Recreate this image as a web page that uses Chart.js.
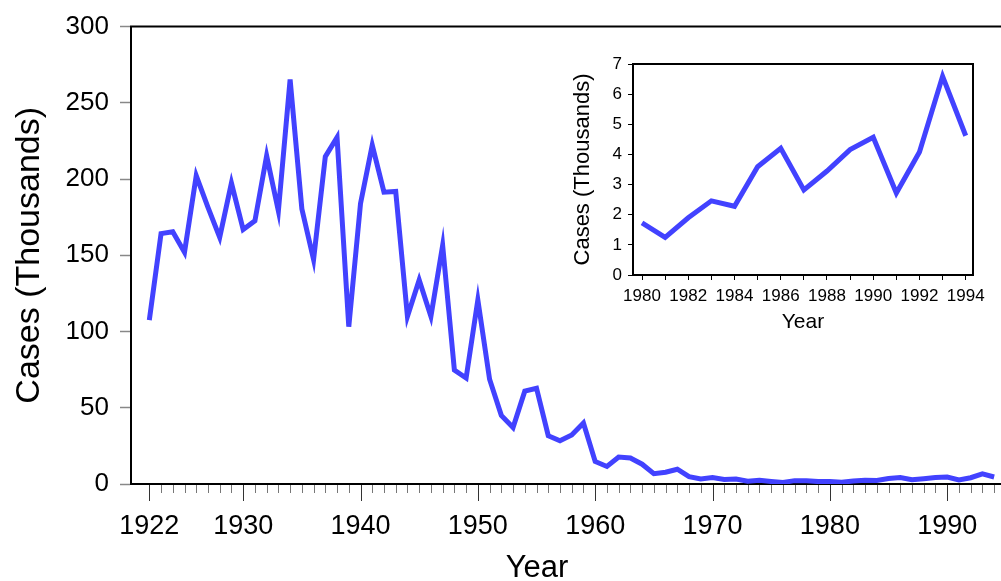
<!DOCTYPE html>
<html>
<head>
<meta charset="utf-8">
<title>Cases by year</title>
<script src="https://cdn.jsdelivr.net/npm/chart.js@4.4.1/dist/chart.umd.min.js"></script>
<style>
    html, body { margin: 0; padding: 0; background: #fff; overflow: hidden; }
    #wrap { position: relative; width: 1001px; height: 581px; }
    #main { position: absolute; left: 0; top: 0; }
    #inset { position: absolute; left: 560px; top: 40px; }
</style>
</head>
<body>
<div id="wrap">
    <canvas id="main" width="1001" height="581"></canvas>
    <canvas id="inset" width="441" height="300"></canvas>
</div>
<script>
// datos (miles de casos por año)
const years = [];
for (let y = 1922; y <= 1994; y++) years.push(y);

const cases = [
    107.5, 164.2, 165.4, 152.0, 202.2, 181.4, 161.8, 197.4, 166.9, 172.6, // 1922-1931
    215.3, 179.1, 265.3, 180.5, 147.2, 214.7, 227.3, 103.2, 183.9, 222.2, // 1932-1941
    191.4, 191.9, 109.9, 133.8, 109.9, 156.5, 74.7, 69.5, 120.7, 68.7,    // 1942-1951
    45.0, 37.1, 60.9, 62.8, 31.7, 28.3, 32.1, 40.0, 14.8, 11.5,           // 1952-1961
    17.7, 17.1, 13.0, 6.8, 7.7, 9.7, 4.8, 3.3, 4.2, 3.0,                  // 1962-1971
    3.3, 1.8, 2.4, 1.7, 1.0, 2.2, 2.1, 1.6, 1.7, 1.2,                     // 1972-1981
    1.9, 2.5, 2.3, 3.6, 4.2, 2.8, 3.5, 4.2, 4.6, 2.7,                     // 1982-1991
    4.1, 6.6, 4.6                                                         // 1992-1994
];

const mainYTicks = [0, 50, 100, 150, 200, 250, 300];
const mainXLabels = [1922, 1930, 1940, 1950, 1960, 1970, 1980, 1990];

// recuadro 1980-1994
const insetYears = [1980, 1981, 1982, 1983, 1984, 1985, 1986, 1987, 1988, 1989, 1990, 1991, 1992, 1993, 1994];
const insetCases = [1.73, 1.25, 1.90, 2.46, 2.28, 3.59, 4.20, 2.82, 3.45, 4.16, 4.57, 2.72, 4.08, 6.59, 4.62];
const insetYTicks = [0, 1, 2, 3, 4, 5, 6, 7];
const insetXLabels = [1980, 1982, 1984, 1986, 1988, 1990, 1992, 1994];

const LINE = '#4242ff';
const FONT = "'Liberation Sans', Arial, Helvetica, sans-serif";
Chart.defaults.font.family = FONT;
Chart.defaults.color = '#000';

// marco: lineas extra en los lados indicados
function framePlugin(id, sides) {
    return {
        id: id,
        afterDraw(chart) {
            const a = chart.chartArea, ctx = chart.ctx;
            ctx.save();
            ctx.strokeStyle = '#000';
            ctx.lineWidth = 2;
            ctx.beginPath();
            if (sides.includes('top')) { ctx.moveTo(a.left - 1, a.top); ctx.lineTo(a.right + 1, a.top); }
            if (sides.includes('right')) { ctx.moveTo(a.right, a.top); ctx.lineTo(a.right, a.bottom); }
            ctx.stroke();
            ctx.restore();
        }
    };
}

// marcas del eje X principal: largas en las etiquetas, cortas cada año
const mainXTicksPlugin = {
    id: 'mainXTicks',
    afterDraw(chart) {
        const sx = chart.scales.x, ctx = chart.ctx;
        const y0 = chart.chartArea.bottom + 1;
        ctx.save();
        sx.ticks.forEach(t => {
            const major = mainXLabels.includes(t.value);
            const px = Math.round(sx.getPixelForValue(t.value)) + 0.5;
            ctx.strokeStyle = major ? '#333' : '#777';
            ctx.lineWidth = 1;
            ctx.beginPath();
            ctx.moveTo(px, y0);
            ctx.lineTo(px, y0 + (major ? 16 : 8));
            ctx.stroke();
        });
        // titulo del eje X
        ctx.fillStyle = '#000';
        ctx.font = '31px ' + FONT;
        ctx.textAlign = 'center';
        ctx.textBaseline = 'alphabetic';
        ctx.fillText('Year', 537, 577);
        ctx.restore();
    }
};

new Chart(document.getElementById('main').getContext('2d'), {
    type: 'line',
    data: {
        datasets: [{
            data: years.map((y, i) => ({ x: y, y: cases[i] })),
            borderColor: LINE,
            borderWidth: 5,
            borderJoinStyle: 'miter',
            borderCapStyle: 'butt',
            pointRadius: 0,
            tension: 0,
            fill: false
        }]
    },
    options: {
        responsive: false,
        animation: false,
        layout: { padding: { left: 0, right: 1, top: 22, bottom: 0 } },
        plugins: { legend: { display: false }, tooltip: { enabled: false } },
        scales: {
            x: {
                type: 'linear',
                min: 1920.44,
                max: 1994.5,
                afterBuildTicks: s => { s.ticks = years.map(v => ({ value: v })); },
                afterFit: s => { s.height = 97; s.paddingRight = 0; s.paddingLeft = 0; },
                grid: { display: false, drawTicks: false },
                border: { display: true, color: '#000', width: 2 },
                ticks: {
                    autoSkip: false,
                    maxRotation: 0,
                    padding: 26,
                    font: { size: 27 },
                    color: '#000',
                    callback: v => mainXLabels.includes(v) ? String(v) : ''
                }
            },
            y: {
                min: 0,
                max: 300,
                afterBuildTicks: s => { s.ticks = mainYTicks.map(v => ({ value: v })); },
                afterFit: s => { s.width = 131; },
                grid: {
                    display: true,
                    drawOnChartArea: false,
                    drawTicks: true,
                    tickLength: 11,
                    tickColor: '#888',
                    tickWidth: 1.5
                },
                border: { display: true, color: '#000', width: 2 },
                ticks: { padding: 11, font: { size: 26 }, color: '#000' },
                title: {
                    display: true,
                    text: 'Cases (Thousands)',
                    font: { size: 34 },
                    color: '#000',
                    padding: { top: 9, bottom: 0 }
                }
            }
        }
    },
    plugins: [mainXTicksPlugin, framePlugin('mainFrame', ['top'])]
});

new Chart(document.getElementById('inset').getContext('2d'), {
    type: 'line',
    data: {
        datasets: [{
            data: insetYears.map((y, i) => ({ x: y, y: insetCases[i] })),
            borderColor: LINE,
            borderWidth: 5,
            borderJoinStyle: 'miter',
            borderCapStyle: 'butt',
            pointRadius: 0,
            tension: 0,
            fill: false
        }]
    },
    options: {
        responsive: false,
        animation: false,
        layout: { padding: { left: 0, right: 28, top: 24, bottom: 0 } },
        plugins: { legend: { display: false }, tooltip: { enabled: false } },
        scales: {
            x: {
                type: 'linear',
                min: 1979.61,
                max: 1994.315,
                afterBuildTicks: s => { s.ticks = insetYears.map(v => ({ value: v })); },
                afterFit: s => { s.height = 65; s.paddingRight = 0; s.paddingLeft = 0; },
                grid: {
                    display: true,
                    drawOnChartArea: false,
                    drawTicks: true,
                    tickLength: 5,
                    tickColor: '#000',
                    tickWidth: 1
                },
                border: { display: true, color: '#000', width: 2 },
                ticks: {
                    autoSkip: false,
                    maxRotation: 0,
                    padding: 6,
                    font: { size: 17 },
                    color: '#000',
                    callback: v => insetXLabels.includes(v) ? String(v) : ''
                },
                title: {
                    display: true,
                    text: 'Year',
                    font: { size: 21 },
                    color: '#000',
                    padding: { top: 0, bottom: 5 }
                }
            },
            y: {
                min: 0,
                max: 7,
                afterBuildTicks: s => { s.ticks = insetYTicks.map(v => ({ value: v })); },
                afterFit: s => { s.width = 73; },
                grid: {
                    display: true,
                    drawOnChartArea: false,
                    drawTicks: true,
                    tickLength: 5,
                    tickColor: '#000',
                    tickWidth: 1
                },
                border: { display: true, color: '#000', width: 2 },
                ticks: { padding: 6, font: { size: 17 }, color: '#000' },
                title: {
                    display: true,
                    text: 'Cases (Thousands)',
                    font: { size: 22 },
                    color: '#000',
                    padding: { top: 10, bottom: 0 }
                }
            }
        }
    },
    plugins: [framePlugin('insetFrame', ['top', 'right'])]
});
</script>
</body>
</html>
